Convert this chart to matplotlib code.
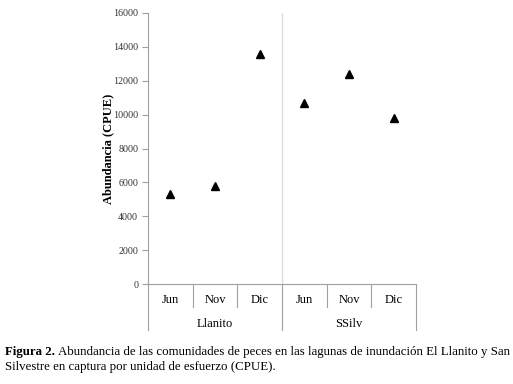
import matplotlib
matplotlib.use("Agg")
import matplotlib.pyplot as plt
from matplotlib.transforms import blended_transform_factory

plt.rcParams['font.family'] = ['Liberation Serif', 'DejaVu Serif']

months = ['Jun', 'Nov', 'Dic', 'Jun', 'Nov', 'Dic']
groups = ['Llanito', 'SSilv']
cpue = [5300, 5800, 13600, 10700, 12400, 9800]
yticks = [0, 2000, 4000, 6000, 8000, 10000, 12000, 14000, 16000]

W, H = 513, 384
fig = plt.figure(figsize=(W / 100, H / 100), dpi=100)
ax = fig.add_axes([148 / W, (H - 284) / H, (416 - 148) / W, 271 / H])

x = list(range(len(cpue)))
ax.plot(x, cpue, linestyle='none', marker='^', color='black', markersize=6)

gray = '#a0a0a0'
ax.set_xlim(-0.5, 5.5)
ax.set_ylim(0, 16000)
ax.set_yticks(yticks)
ax.set_yticklabels([str(t) for t in yticks], fontsize=7.2, color='#333333')
ax.tick_params(axis='y', length=4, color=gray, width=0.8, pad=3)
ax.set_xticks([])
for s in ['top', 'right']:
    ax.spines[s].set_visible(False)
for s in ['left', 'bottom']:
    ax.spines[s].set_color(gray)
    ax.spines[s].set_linewidth(0.8)

# separator between lakes
ax.axvline(2.5, color='#d8d8d8', linewidth=0.8)

ax.set_ylabel('Abundancia (CPUE)', fontsize=9, fontweight='bold')
ax.yaxis.set_label_coords((114 - 148) / 268, 0.5)

# category axis below
trans = blended_transform_factory(ax.transData, ax.transAxes)
px = 1 / 271
for b in [0.5, 1.5, 3.5, 4.5]:
    ax.plot([b, b], [0, -23 * px], transform=trans, color=gray, lw=0.8, clip_on=False)
for b in [-0.5, 2.5, 5.5]:
    ax.plot([b, b], [0, -46 * px], transform=trans, color=gray, lw=0.8, clip_on=False)
for i, m in enumerate(months):
    ax.text(i, -16 * px, m, transform=trans, ha='center', va='center', fontsize=9)
for j, g in enumerate(groups):
    ax.text(1 + 3 * j, -40 * px, g, transform=trans, ha='center', va='center', fontsize=9)

# caption
fs = 9.3
t0 = fig.text(5 / W, 1 - 352 / H, 'Figura 2.', fontsize=fs, fontweight='bold', va='center')
fig.canvas.draw()
x1 = t0.get_window_extent().x1
fig.text((x1 + 3) / W, 1 - 352 / H,
         'Abundancia de las comunidades de peces en las lagunas de inundación El Llanito y San',
         fontsize=fs, va='center')
fig.text(5 / W, 1 - 367 / H, 'Silvestre en captura por unidad de esfuerzo (CPUE).',
         fontsize=fs, va='center')

fig.savefig('out.png', dpi=100)
